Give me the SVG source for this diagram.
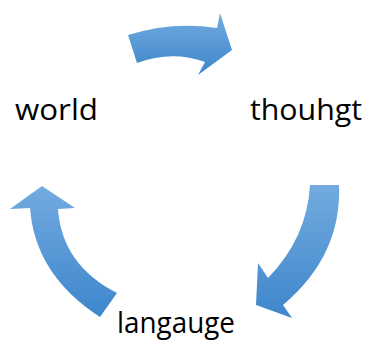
<svg xmlns="http://www.w3.org/2000/svg" width="372" height="343" viewBox="0 0 372 343">
  <defs>
    <linearGradient id="blueFill" x1="0" y1="0" x2="0" y2="1">
      <stop offset="0" stop-color="#73abe0"/>
      <stop offset="1" stop-color="#3d86cb"/>
    </linearGradient>
  </defs>
  <style>
    .arrow { fill: url(#blueFill); stroke: none; }
    .label { font-family: "Open Sans", "Liberation Sans", sans-serif; font-size: 30px; fill: #000; }
  </style>
  <rect width="372" height="343" fill="#ffffff"/>

  <!-- cycle connectors -->
  <g id="connectors">
    <!-- world to thouhgt -->
    <path class="arrow" d="M128,35 Q172,21 217,28 L220,13 L232,50 L198,75 L205,62 Q172,50 137,63 Z"/>
    <!-- thouhgt to langauge -->
    <path class="arrow" d="M310,185 L339,185 Q342,255 283,305 L292,318 L256,305 L258,263 L268,278 Q307,238 310,185 Z"/>
    <!-- langauge to world -->
    <path class="arrow" d="M100,317 Q35,275 30,208 L10,209 L42,186 L75,208 L58,209 Q62,265 117,293 Z"/>
  </g>

  <g id="node-world">
    <text class="label" x="15" y="120" textLength="83" lengthAdjust="spacingAndGlyphs">world</text>
  </g>
  <g id="node-thouhgt">
    <text class="label" x="250" y="120" textLength="112" lengthAdjust="spacingAndGlyphs">thouhgt</text>
  </g>
  <g id="node-langauge">
    <text class="label" x="117" y="333" textLength="118" lengthAdjust="spacingAndGlyphs">langauge</text>
  </g>
</svg>
